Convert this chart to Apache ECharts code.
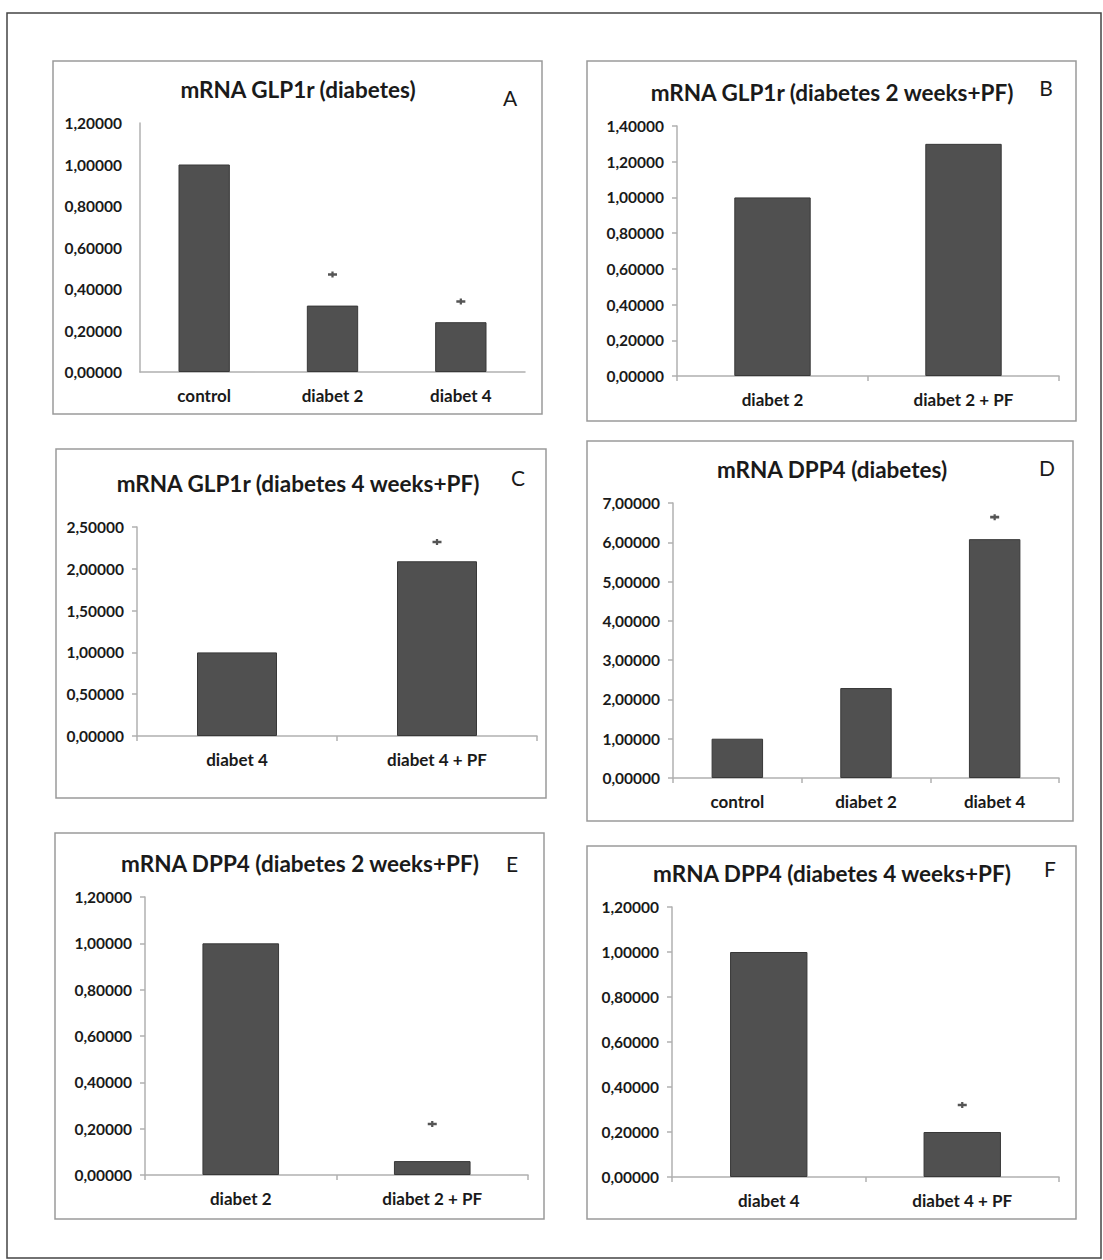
<!DOCTYPE html>
<html>
<head>
<meta charset="utf-8">
<script src="https://cdn.jsdelivr.net/npm/echarts@6/dist/echarts.min.js"></script>
<style>
html,body{margin:0;padding:0;background:#fff;}
#chart{width:1103px;height:1260px;}
</style>
</head>
<body>
<div id="chart"></div>
<script>
// 数据：每个子图的类别、柱值、星号位置
var titles = [
	'mRNA GLP1r (diabetes)',
	'mRNA GLP1r (diabetes 2 weeks+PF)',
	'mRNA GLP1r (diabetes 4 weeks+PF)',
	'mRNA DPP4 (diabetes)',
	'mRNA DPP4 (diabetes 2 weeks+PF)',
	'mRNA DPP4 (diabetes 4 weeks+PF)'
];
var letters = ['A', 'B', 'C', 'D', 'E', 'F'];

var catsA = ['control', 'diabet 2', 'diabet 4'];
var valsA = [1.0, 0.32, 0.24];
var starsA = [null, 0.47, 0.34];

var catsB = ['diabet 2', 'diabet 2 + PF'];
var valsB = [1.0, 1.30];
var starsB = [null, null];

var catsC = ['diabet 4', 'diabet 4 + PF'];
var valsC = [1.0, 2.09];
var starsC = [null, 2.32];

var catsD = ['control', 'diabet 2', 'diabet 4'];
var valsD = [1.0, 2.29, 6.08];
var starsD = [null, null, 6.64];

var catsE = ['diabet 2', 'diabet 2 + PF'];
var valsE = [1.0, 0.06];
var starsE = [null, 0.22];

var catsF = ['diabet 4', 'diabet 4 + PF'];
var valsF = [1.0, 0.20];
var starsF = [null, 0.32];

// y轴刻度: [max, interval]
var yScaleA = [1.2, 0.2];
var yScaleB = [1.4, 0.2];
var yScaleC = [2.5, 0.5];
var yScaleD = [7, 1];
var yScaleE = [1.2, 0.2];
var yScaleF = [1.2, 0.2];

var cats = [catsA, catsB, catsC, catsD, catsE, catsF];
var vals = [valsA, valsB, valsC, valsD, valsE, valsF];
var stars = [starsA, starsB, starsC, starsD, starsE, starsF];
var yScales = [yScaleA, yScaleB, yScaleC, yScaleD, yScaleE, yScaleF];

// 版面：外框、绘图区、标题中心、字母位置（像素）
var layout = [
	{box: [53, 61, 489, 353], grid: [140, 123, 385, 249], title: [298, 89], letter: [510, 97], ticks: false},
	{box: [587, 61, 489, 360], grid: [677, 126, 382, 250], title: [832, 92], letter: [1046, 87], ticks: true},
	{box: [56, 449, 490, 349], grid: [137, 527, 400, 209], title: [298, 483], letter: [518, 477], ticks: true},
	{box: [587, 441, 486, 380], grid: [673, 503, 386, 275], title: [832, 469], letter: [1047, 467], ticks: true},
	{box: [55, 833, 489, 386], grid: [145, 897, 383, 278], title: [300, 863], letter: [512, 863], ticks: true},
	{box: [587, 846, 489, 373], grid: [672, 907, 387, 270], title: [832, 873], letter: [1050, 868], ticks: true}
];

var FONT = 'Lato, "Open Sans", sans-serif';
var TEXT = '#1a1a1a';
var AXIS = '#b0b0b0';

var chart = echarts.init(document.getElementById('chart'), null, {renderer: 'svg'});

var option = {
	backgroundColor: '#fff',
	animation: false,
	textStyle: {fontFamily: FONT},
	title: [],
	grid: [],
	xAxis: [],
	yAxis: [],
	series: [],
	graphic: []
};

// 整体外框
option.graphic.push({
	type: 'rect', silent: true,
	shape: {x: 7, y: 13, width: 1094, height: 1245},
	style: {fill: 'none', stroke: '#444', lineWidth: 1.5}
});

for (var i = 0; i < layout.length; i++) {
	var L = layout[i];
	option.graphic.push({
		type: 'rect', silent: true,
		shape: {x: L.box[0], y: L.box[1], width: L.box[2], height: L.box[3]},
		style: {fill: 'none', stroke: '#9a9a9a', lineWidth: 1.5}
	});
	option.graphic.push({
		type: 'text', silent: true, x: L.letter[0], y: L.letter[1],
		style: {text: letters[i], font: 'normal 21px ' + FONT, fill: TEXT, align: 'center', verticalAlign: 'middle'}
	});
	option.title.push({
		text: titles[i], left: L.title[0], top: L.title[1] - 13, textAlign: 'center', padding: 0,
		textStyle: {fontFamily: FONT, fontWeight: 'bold', fontSize: 22.5, color: TEXT, lineHeight: 26}
	});
	option.grid.push({left: L.grid[0], top: L.grid[1], width: L.grid[2], height: L.grid[3], containLabel: false});
	option.xAxis.push({
		type: 'category', gridIndex: i, data: cats[i], boundaryGap: true,
		axisLine: {lineStyle: {color: AXIS, width: 1.5}},
		axisTick: {show: L.ticks, length: 5, alignWithLabel: false, lineStyle: {color: AXIS, width: 1.5}},
		axisLabel: {margin: 15, fontFamily: FONT, fontWeight: 'bold', fontSize: 17, color: TEXT, interval: 0},
		splitLine: {show: false}
	});
	option.yAxis.push({
		type: 'value', gridIndex: i, min: 0, max: yScales[i][0], interval: yScales[i][1],
		axisLine: {show: true, lineStyle: {color: AXIS, width: 1.5}},
		axisTick: {show: L.ticks, length: 5, lineStyle: {color: AXIS, width: 1.5}},
		axisLabel: {
			margin: L.ticks ? 13 : 18, fontFamily: FONT, fontWeight: 'bold', fontSize: 15.5, color: TEXT,
			formatter: function (v) { return v.toFixed(5).replace('.', ','); }
		},
		splitLine: {show: false}
	});
	option.series.push({
		type: 'bar', xAxisIndex: i, yAxisIndex: i, data: vals[i], barWidth: '40%',
		itemStyle: {color: '#505050', borderColor: '#383838', borderWidth: 1}
	});
	// 显著性星号
	var starData = [];
	for (var j = 0; j < stars[i].length; j++) {
		starData.push(stars[i][j] == null ? '-' : stars[i][j]);
	}
	option.series.push({
		type: 'scatter', xAxisIndex: i, yAxisIndex: i, data: starData,
		symbol: 'path://M0,2 L3,2 L3,0 L5,0 L5,2 L8,2 L8,5 L5,5 L5,7 L3,7 L3,5 L0,5 Z',
		symbolSize: [9, 6],
		itemStyle: {color: '#2a2a2a'}
	});
}

chart.setOption(option);
</script>
</body>
</html>
